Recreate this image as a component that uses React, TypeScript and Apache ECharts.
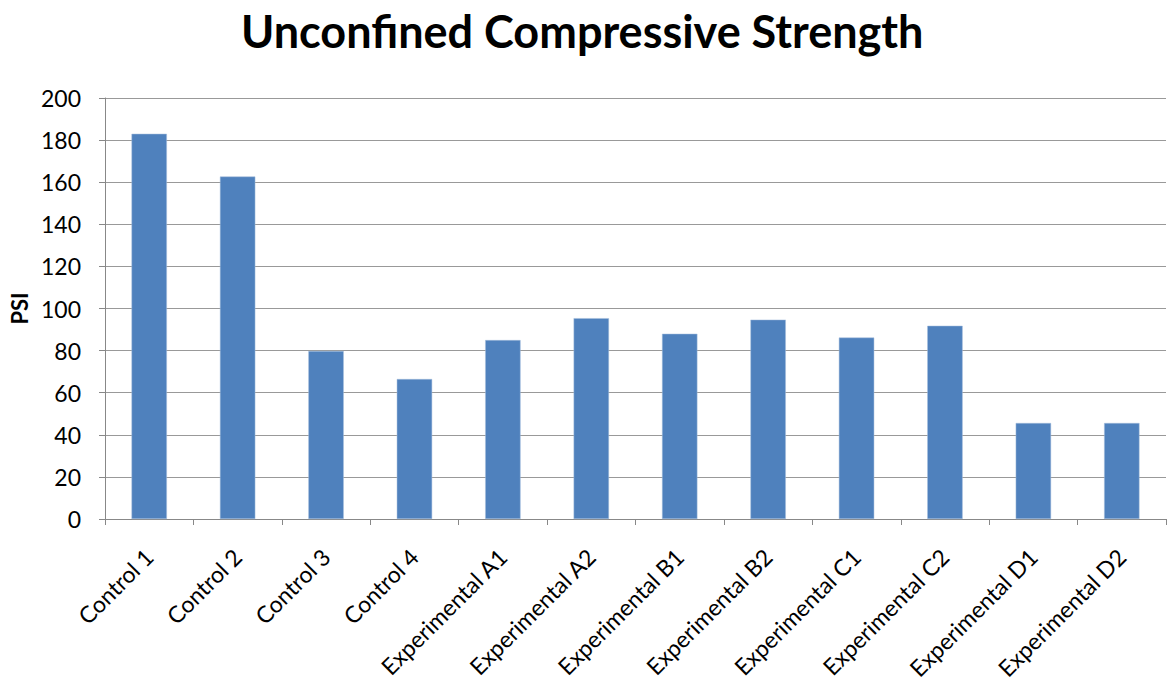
import React, { useEffect, useRef } from "react";
import * as echarts from "echarts";

const categories = [
  "Control 1",
  "Control 2",
  "Control 3",
  "Control 4",
  "Experimental A1",
  "Experimental A2",
  "Experimental B1",
  "Experimental B2",
  "Experimental C1",
  "Experimental C2",
  "Experimental D1",
  "Experimental D2",
];
const psiValues = [183, 162.7, 79.8, 66.5, 85, 95.4, 88, 94.7, 86.2, 91.8, 45.6, 45.6];

const FONT = "Lato, 'Noto Sans', sans-serif";

export default function App() {
  const ref = useRef<HTMLDivElement>(null);
  useEffect(() => {
    if (!ref.current) return;
    const chart = echarts.init(ref.current, undefined, { renderer: "svg" });
    chart.setOption({
      animation: false,
      backgroundColor: "#ffffff",
      title: {
        text: "Unconfined Compressive Strength",
        left: 236,
        top: 3,
        textStyle: {
          fontFamily: FONT,
          fontWeight: "bold",
          fontSize: 45,
          color: "#000",
        },
      },
      grid: {
        left: 105,
        right: 1,
        top: 98,
        bottom: 162,
        containLabel: false,
        outerBoundsMode: "none",
      },
      xAxis: {
        type: "category",
        data: categories,
        axisLine: { show: true, lineStyle: { color: "#888", width: 1 } },
        axisTick: { show: true, length: 6, inside: false, alignWithLabel: false, lineStyle: { color: "#888" } },
        axisLabel: {
          rotate: 45,
          interval: 0,
          margin: 17,
          verticalAlign: "top",
          padding: [0, 12, 0, 0],
          fontFamily: FONT,
          fontSize: 23,
          color: "#000",
        },
      },
      yAxis: {
        type: "value",
        min: 0,
        max: 200,
        interval: 20,
        name: "PSI",
        nameLocation: "middle",
        nameGap: 72,
        nameTextStyle: { fontFamily: FONT, fontWeight: "bold", fontSize: 22, color: "#000" },
        axisLine: { show: true, lineStyle: { color: "#888", width: 1 } },
        axisTick: { show: true, length: 6, lineStyle: { color: "#888" } },
        axisLabel: { fontFamily: FONT, fontSize: 23, color: "#000", margin: 24 },
        splitLine: { show: true, lineStyle: { color: "#999", width: 1 } },
      },
      series: [
        {
          type: "bar",
          data: psiValues,
          barWidth: "40%",
          itemStyle: { color: "#4f81bd", borderColor: "#a7bfdd", borderWidth: 0.5 },
        },
      ],
    });
    return () => chart.dispose();
  }, []);
  return <div ref={ref} style={{ width: 1167, height: 681, position: "absolute", left: 0, top: 0 }} />;
}
